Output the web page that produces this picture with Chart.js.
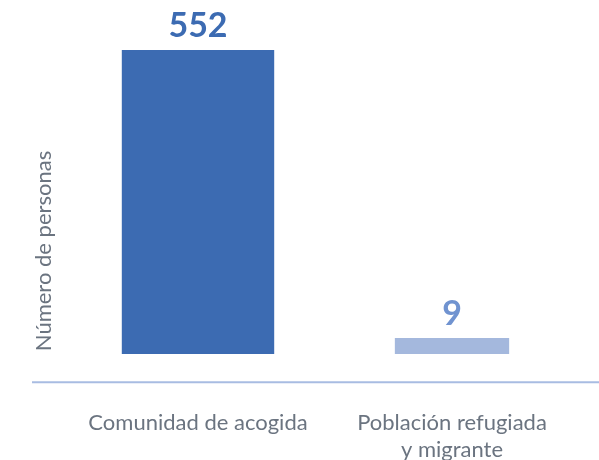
<!DOCTYPE html>
<html>
<head>
<meta charset="utf-8">
<script src="https://cdn.jsdelivr.net/npm/chart.js@4/dist/chart.umd.min.js"></script>
<style>
  html, body { margin: 0; padding: 0; background: #fff; }
  #wrap { width: 599px; height: 460px; }
</style>
</head>
<body>
<div id="wrap"><canvas id="myChart"></canvas></div>
<script>
const categories = ["Comunidad de acogida", ["Población refugiada", "y migrante"]];
const hostValues = [552, null];
const refugeeValues = [null, 9];
const yTitle = "Número de personas";

const FONT = "Lato, 'Open Sans', sans-serif";

// value labels above bars, y title and the base line
const extras = {
    id: "extras",
    afterDatasetsDraw(chart) {
        const ctx = chart.ctx;
        ctx.save();
        chart.data.datasets.forEach((ds, i) => {
            chart.getDatasetMeta(i).data.forEach((bar, j) => {
                if (ds.data[j] == null) return;
                ctx.fillStyle = ds.labelColor;
                ctx.font = "bold 34px " + FONT;
                ctx.textAlign = "center";
                ctx.textBaseline = "bottom";
                ctx.fillText(ds.data[j], bar.x, bar.y - 7);
            });
        });
        // base line
        const a = chart.chartArea;
        ctx.strokeStyle = "#a8bce2";
        ctx.lineWidth = 2;
        ctx.beginPath();
        ctx.moveTo(32, a.bottom);
        ctx.lineTo(chart.width, a.bottom);
        ctx.stroke();
        // y axis title
        ctx.translate(44, 251);
        ctx.rotate(-Math.PI / 2);
        ctx.fillStyle = "#6b7480";
        ctx.font = "22px " + FONT;
        ctx.textAlign = "center";
        ctx.textBaseline = "middle";
        ctx.fillText(yTitle, 0, 0);
        ctx.restore();
    }
};

new Chart("myChart", {
    type: "bar",
    data: {
        labels: categories,
        datasets: [{
            data: hostValues,
            backgroundColor: "#3c6bb2",
            labelColor: "#3c6bb2",
            barPercentage: 0.6
        }, {
            data: refugeeValues,
            backgroundColor: "#a4b8dd",
            labelColor: "#7093d0",
            barPercentage: 0.45,
            minBarLength: 16
        }]
    },
    options: {
        responsive: true,
        maintainAspectRatio: false,
        animation: false,
        layout: { padding: { left: 71, right: 20, top: 50, bottom: -23 } },
        plugins: {
            legend: { display: false },
            tooltip: { enabled: false }
        },
        datasets: { bar: { grouped: false, categoryPercentage: 1 } },
        scales: {
            x: {
                grid: { display: false },
                border: { display: false },
                ticks: {
                    color: "#6b7480",
                    padding: 20,
                    maxRotation: 0,
                    font: { family: FONT, size: 22, lineHeight: 1.2 }
                }
            },
            y: {
                display: false,
                min: -51,
                max: 552
            }
        }
    },
    plugins: [extras]
});
</script>
</body>
</html>
